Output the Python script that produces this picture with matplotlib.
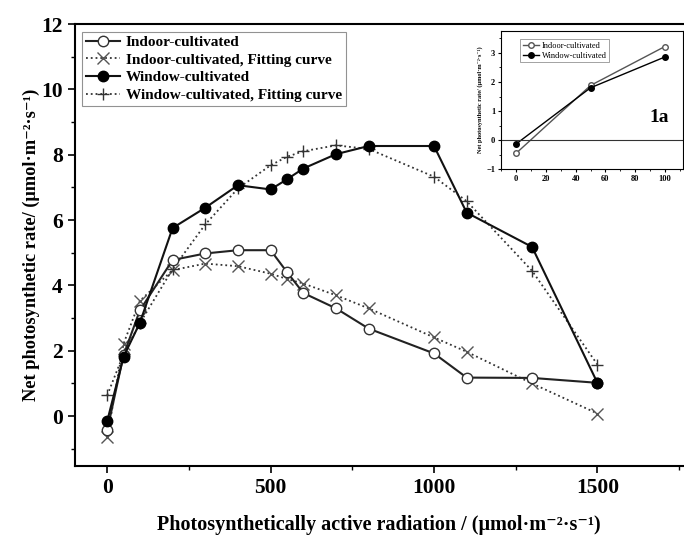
import matplotlib
matplotlib.use("Agg")
import matplotlib.pyplot as plt
from matplotlib.ticker import MultipleLocator

plt.rcParams['font.family'] = ['Liberation Serif', 'DejaVu Serif']
plt.rcParams['font.weight'] = 'bold'

# PAR values
par = [0, 50, 100, 200, 300, 400, 500, 550, 600, 700, 800, 1000, 1100, 1300, 1500]

indoor = [-0.43, 1.87, 3.24, 4.78, 4.98, 5.08, 5.08, 4.41, 3.77, 3.30, 2.68, 1.92, 1.18, 1.17, 1.02]
indoor_fit = [-0.65, 2.22, 3.53, 4.47, 4.67, 4.59, 4.36, 4.20, 4.06, 3.70, 3.30, 2.41, 1.97, 1.00, 0.08]
window = [-0.15, 1.82, 2.86, 5.76, 6.38, 7.07, 6.94, 7.25, 7.58, 8.02, 8.27, 8.27, 6.23, 5.18, 1.02]
window_fit = [0.64, 1.90, 2.85, 4.50, 5.87, 6.97, 7.68, 7.94, 8.11, 8.29, 8.18, 7.33, 6.58, 4.45, 1.58]

# inset (low light)
par_low = [0, 50, 100]
indoor_low = [-0.45, 1.88, 3.22]
window_low = [-0.13, 1.80, 2.86]

fig = plt.figure(figsize=(6.84, 5.37), dpi=100)
ax = fig.add_axes([0.109, 0.132, 0.891, 0.823])

ax.plot(par, indoor, '-', color='#222222', lw=1.5, marker='o', ms=7.5,
        mfc='white', mec='#333333', mew=1.0, label='Indoor-cultivated', zorder=4)
ax.plot(par, indoor_fit, ':', color='#333333', lw=1.3, marker='x', ms=8.5,
        mec='#555555', mew=1.0, label='Indoor-cultivated, Fitting curve', zorder=3)
ax.plot(par, window, '-', color='#111111', lw=1.5, marker='o', ms=7.5,
        mfc='black', mec='black', label='Window-cultivated', zorder=5)
ax.plot(par, window_fit, ':', color='#333333', lw=1.3, marker='+', ms=8,
        mec='#333333', mew=1.0, label='Window-cultivated, Fitting curve', zorder=3)

ax.set_xlim(-100, 1765)
ax.set_ylim(-1.53, 12)
ax.xaxis.set_major_locator(MultipleLocator(500))
ax.xaxis.set_minor_locator(MultipleLocator(250))
ax.yaxis.set_major_locator(MultipleLocator(2))
ax.yaxis.set_minor_locator(MultipleLocator(1))
ax.tick_params(which='major', direction='out', length=5, width=1.2, labelsize=15.5)
ax.tick_params(which='minor', direction='out', length=3, width=1.0)
ax.spines['right'].set_visible(False)
for s in ['left', 'bottom', 'top']:
    ax.spines[s].set_linewidth(1.5)

ax.set_xlabel('Photosynthetically active radiation / (μmol·m⁻²·s⁻¹)', fontsize=14.5,
              fontweight='bold', labelpad=12)
ax.set_ylabel('Net photosynthetic rate/ (μmol·m⁻²·s⁻¹)', fontsize=13.2,
              fontweight='bold', labelpad=1)

leg = ax.legend(loc='upper left', fontsize=11, frameon=True, fancybox=False,
                edgecolor='#777777', borderpad=0.25, labelspacing=0.25,
                handlelength=2.2, handletextpad=0.4, borderaxespad=0.5)
leg.get_frame().set_linewidth(0.8)
for t in leg.get_texts():
    t.set_fontweight('bold')

# inset
ins = fig.add_axes([0.733, 0.685, 0.265, 0.257])
ins.plot(par_low, indoor_low, '-', color='#555555', lw=1.0, marker='o', ms=4,
         mfc='white', mec='#555555', label='Indoor-cultivated')
ins.plot(par_low, window_low, '-', color='black', lw=1.0, marker='o', ms=4,
         mfc='black', mec='black', label='Window-cultivated')
ins.axhline(0, color='#333333', lw=0.8)
ins.set_xlim(-10, 112)
ins.set_ylim(-1, 3.75)
ins.xaxis.set_major_locator(MultipleLocator(20))
ins.xaxis.set_minor_locator(MultipleLocator(10))
ins.yaxis.set_major_locator(MultipleLocator(1))
ins.yaxis.set_minor_locator(MultipleLocator(0.5))
ins.tick_params(which='major', direction='out', length=2.5, width=0.8, labelsize=6, pad=2)
ins.tick_params(which='minor', direction='out', length=1.5, width=0.6)
for s in ins.spines.values():
    s.set_linewidth(0.8)
ins.set_ylabel('Net photosynthetic rate/ (μmol·m⁻²·s⁻¹)', fontsize=4.5,
               fontweight='bold', labelpad=2)
ins.text(96, 0.77, '1a', fontsize=14, fontweight='bold', ha='center', va='center')
ileg = ins.legend(loc='upper left', fontsize=6, frameon=True, fancybox=False,
                  edgecolor='#777777', borderpad=0.3, labelspacing=0.2,
                  handlelength=2.0, handletextpad=0.3, bbox_to_anchor=(0.08, 0.97))
ileg.get_frame().set_linewidth(0.6)
for t in ileg.get_texts():
    t.set_fontweight('normal')

fig.savefig('out.png', dpi=100)
